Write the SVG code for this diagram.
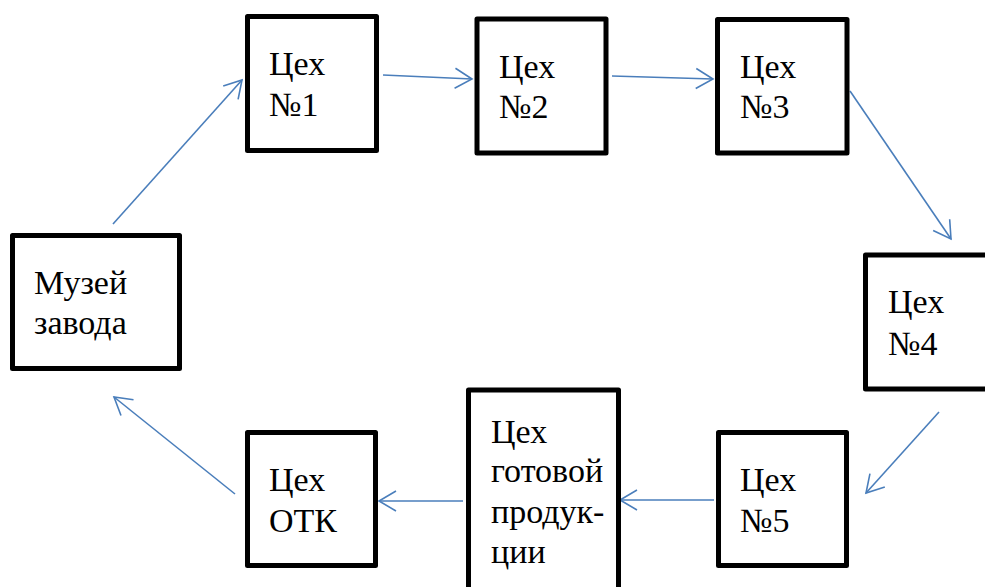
<svg xmlns="http://www.w3.org/2000/svg" width="985" height="587" viewBox="0 0 985 587">
  <defs>
    <marker id="arrow" markerUnits="userSpaceOnUse" orient="auto" refX="0" refY="0" markerWidth="24" markerHeight="24" viewBox="-20 -12 22 24" overflow="visible">
      <path d="M-17,-10 L0,0 L-17,10" fill="none" stroke="#4A7EBB" stroke-width="1.6"/>
    </marker>
  </defs>
  <rect width="985" height="587" fill="#ffffff"/>

  <!-- flow arrows between the workshops -->
  <g id="connectors" fill="none" stroke="#4A7EBB" stroke-width="1.6">
    <line x1="113" y1="224" x2="242" y2="80" marker-end="url(#arrow)"/>
    <line x1="383" y1="75" x2="472" y2="79" marker-end="url(#arrow)"/>
    <line x1="612" y1="76" x2="713" y2="79" marker-end="url(#arrow)"/>
    <line x1="850" y1="91" x2="951" y2="239" marker-end="url(#arrow)"/>
    <line x1="939" y1="412" x2="866" y2="493" marker-end="url(#arrow)"/>
    <line x1="714" y1="500" x2="620" y2="500" marker-end="url(#arrow)"/>
    <line x1="463" y1="501" x2="379" y2="501" marker-end="url(#arrow)"/>
    <line x1="235" y1="494" x2="114" y2="397" marker-end="url(#arrow)"/>
  </g>

  <g id="museum">
    <rect x="12.5" y="235.5" width="167" height="133" fill="#ffffff" stroke="#000000" stroke-width="5" stroke-linejoin="round"/>
    <text x="34" y="294" font-family="Liberation Serif" font-size="34">Музей</text>
    <text x="34" y="334" font-family="Liberation Serif" font-size="34">завода</text>
  </g>

  <g id="shop1">
    <rect x="247.5" y="16.5" width="129" height="134" fill="#ffffff" stroke="#000000" stroke-width="5" stroke-linejoin="round"/>
    <text x="269" y="75" font-family="Liberation Serif" font-size="34">Цех</text>
    <text x="269" y="116" font-family="Liberation Serif" font-size="34">№1</text>
  </g>

  <g id="shop2">
    <rect x="477" y="19" width="129" height="134" fill="#ffffff" stroke="#000000" stroke-width="5" stroke-linejoin="round"/>
    <text x="499" y="78" font-family="Liberation Serif" font-size="34">Цех</text>
    <text x="499" y="118" font-family="Liberation Serif" font-size="34">№2</text>
  </g>

  <g id="shop3">
    <rect x="717.5" y="19.5" width="129.5" height="133.5" fill="#ffffff" stroke="#000000" stroke-width="5" stroke-linejoin="round"/>
    <text x="740" y="78" font-family="Liberation Serif" font-size="34">Цех</text>
    <text x="740" y="118" font-family="Liberation Serif" font-size="34">№3</text>
  </g>

  <g id="shop4">
    <rect x="865.5" y="255" width="130" height="134" fill="#ffffff" stroke="#000000" stroke-width="5" stroke-linejoin="round"/>
    <text x="888" y="313" font-family="Liberation Serif" font-size="34">Цех</text>
    <text x="888" y="355" font-family="Liberation Serif" font-size="34">№4</text>
  </g>

  <g id="shop5">
    <rect x="718.5" y="432.5" width="128" height="133" fill="#ffffff" stroke="#000000" stroke-width="5" stroke-linejoin="round"/>
    <text x="740" y="491" font-family="Liberation Serif" font-size="34">Цех</text>
    <text x="740" y="532" font-family="Liberation Serif" font-size="34">№5</text>
  </g>

  <g id="finished-goods">
    <rect x="468.5" y="390" width="150" height="220" fill="#ffffff" stroke="#000000" stroke-width="5" stroke-linejoin="round"/>
    <text x="491" y="443" font-family="Liberation Serif" font-size="34">Цех</text>
    <text x="491" y="482" font-family="Liberation Serif" font-size="34">готовой</text>
    <text x="491" y="523" font-family="Liberation Serif" font-size="34">продук-</text>
    <text x="491" y="563" font-family="Liberation Serif" font-size="34">ции</text>
  </g>

  <g id="qc">
    <rect x="247.5" y="432.5" width="128" height="133" fill="#ffffff" stroke="#000000" stroke-width="5" stroke-linejoin="round"/>
    <text x="269" y="491" font-family="Liberation Serif" font-size="34">Цех</text>
    <text x="269" y="532" font-family="Liberation Serif" font-size="34">ОТК</text>
  </g>
</svg>
